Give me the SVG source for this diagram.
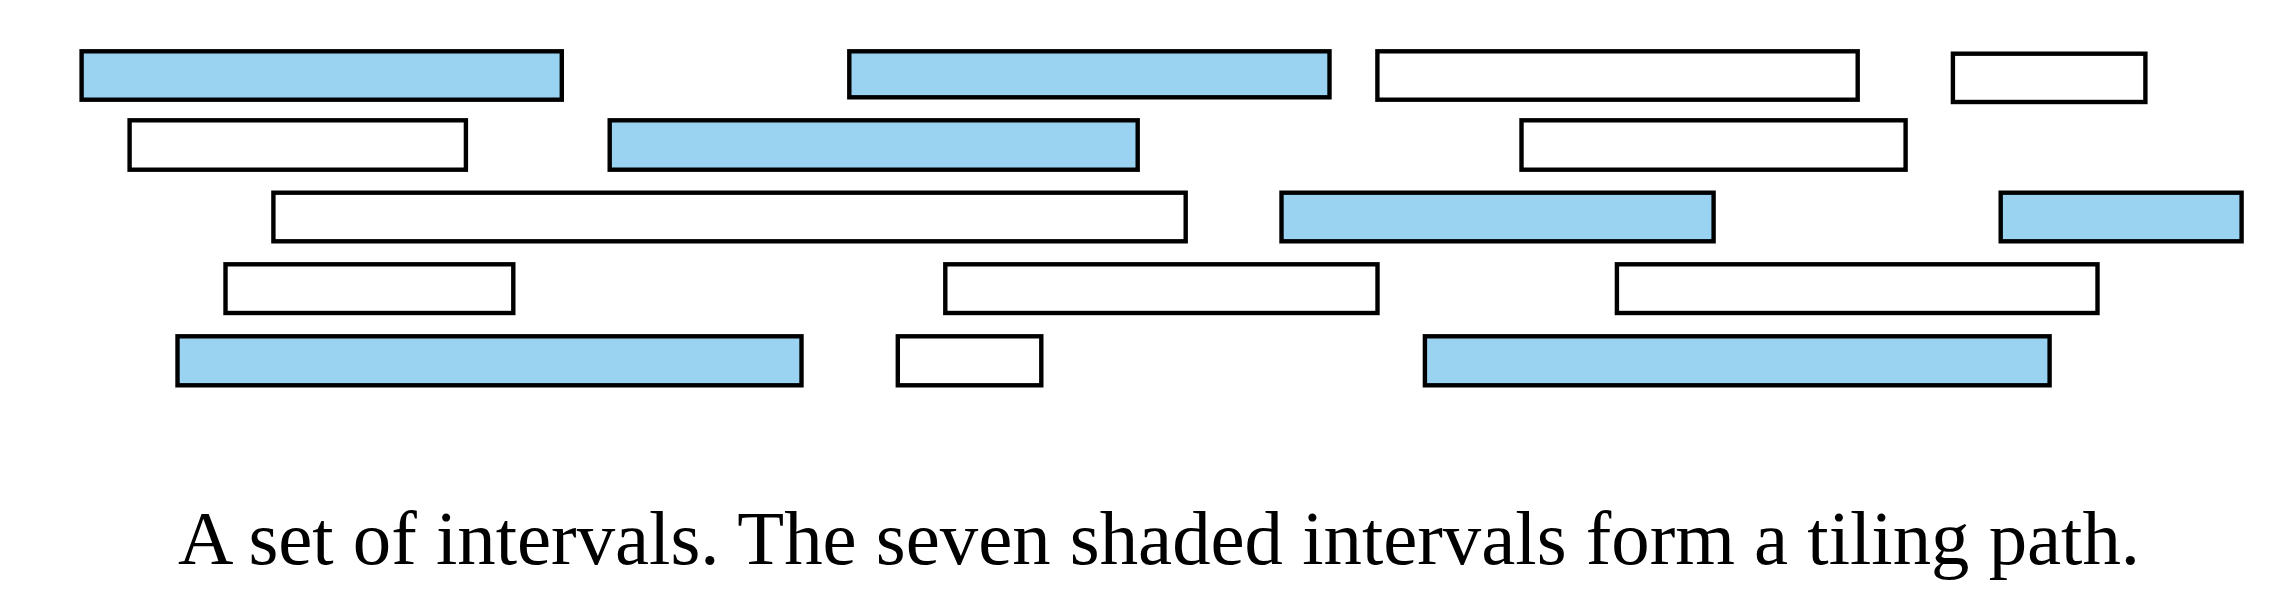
<svg xmlns="http://www.w3.org/2000/svg" width="2290" height="613" viewBox="0 0 2290 613">
<style>
.iv{stroke:#000;stroke-width:4.4;}
.sh{fill:#9ad2f2;}
.pl{fill:#fff;}
.cap{font-family:"Liberation Serif","DejaVu Serif",serif;font-size:77px;fill:#000;}
</style>
<rect width="2290" height="613" fill="#fff"/>
<g id="row1">
<rect id="i1" class="iv sh" x="81.6" y="51.3" width="480.2" height="48.4"/>
<rect id="i2" class="iv sh" x="849.3" y="51.3" width="480.2" height="46"/>
<rect id="i3" class="iv pl" x="1377.4" y="51.3" width="480.3" height="48.4"/>
<rect id="i4" class="iv pl" x="1952.9" y="53.7" width="192.5" height="48.3"/>
</g>
<g id="row2">
<rect id="i5" class="iv pl" x="129.6" y="120.3" width="336.3" height="49.4"/>
<rect id="i6" class="iv sh" x="609.7" y="120.3" width="528" height="49.4"/>
<rect id="i7" class="iv pl" x="1521.5" y="120.3" width="384.1" height="49.4"/>
</g>
<g id="row3">
<rect id="i8" class="iv pl" x="273.4" y="192.7" width="912.3" height="48.6"/>
<rect id="i9" class="iv sh" x="1281.5" y="192.7" width="432.1" height="48.6"/>
<rect id="i10" class="iv sh" x="2000.7" y="192.7" width="240.9" height="48.6"/>
</g>
<g id="row4">
<rect id="i11" class="iv pl" x="225.5" y="264.3" width="287.8" height="48.7"/>
<rect id="i12" class="iv pl" x="945.3" y="264.3" width="432.2" height="48.7"/>
<rect id="i13" class="iv pl" x="1616.9" y="264.3" width="480.6" height="48.7"/>
</g>
<g id="row5">
<rect id="i14" class="iv sh" x="177.5" y="336.3" width="624" height="49"/>
<rect id="i15" class="iv pl" x="897.8" y="336.3" width="143.5" height="49"/>
<rect id="i16" class="iv sh" x="1424.9" y="336.3" width="624.7" height="49"/>
</g>
<g id="connectors"></g>
<text class="cap" x="178" y="564" textLength="1962" lengthAdjust="spacingAndGlyphs">A set of intervals. The seven shaded intervals form a tiling path.</text>
</svg>
